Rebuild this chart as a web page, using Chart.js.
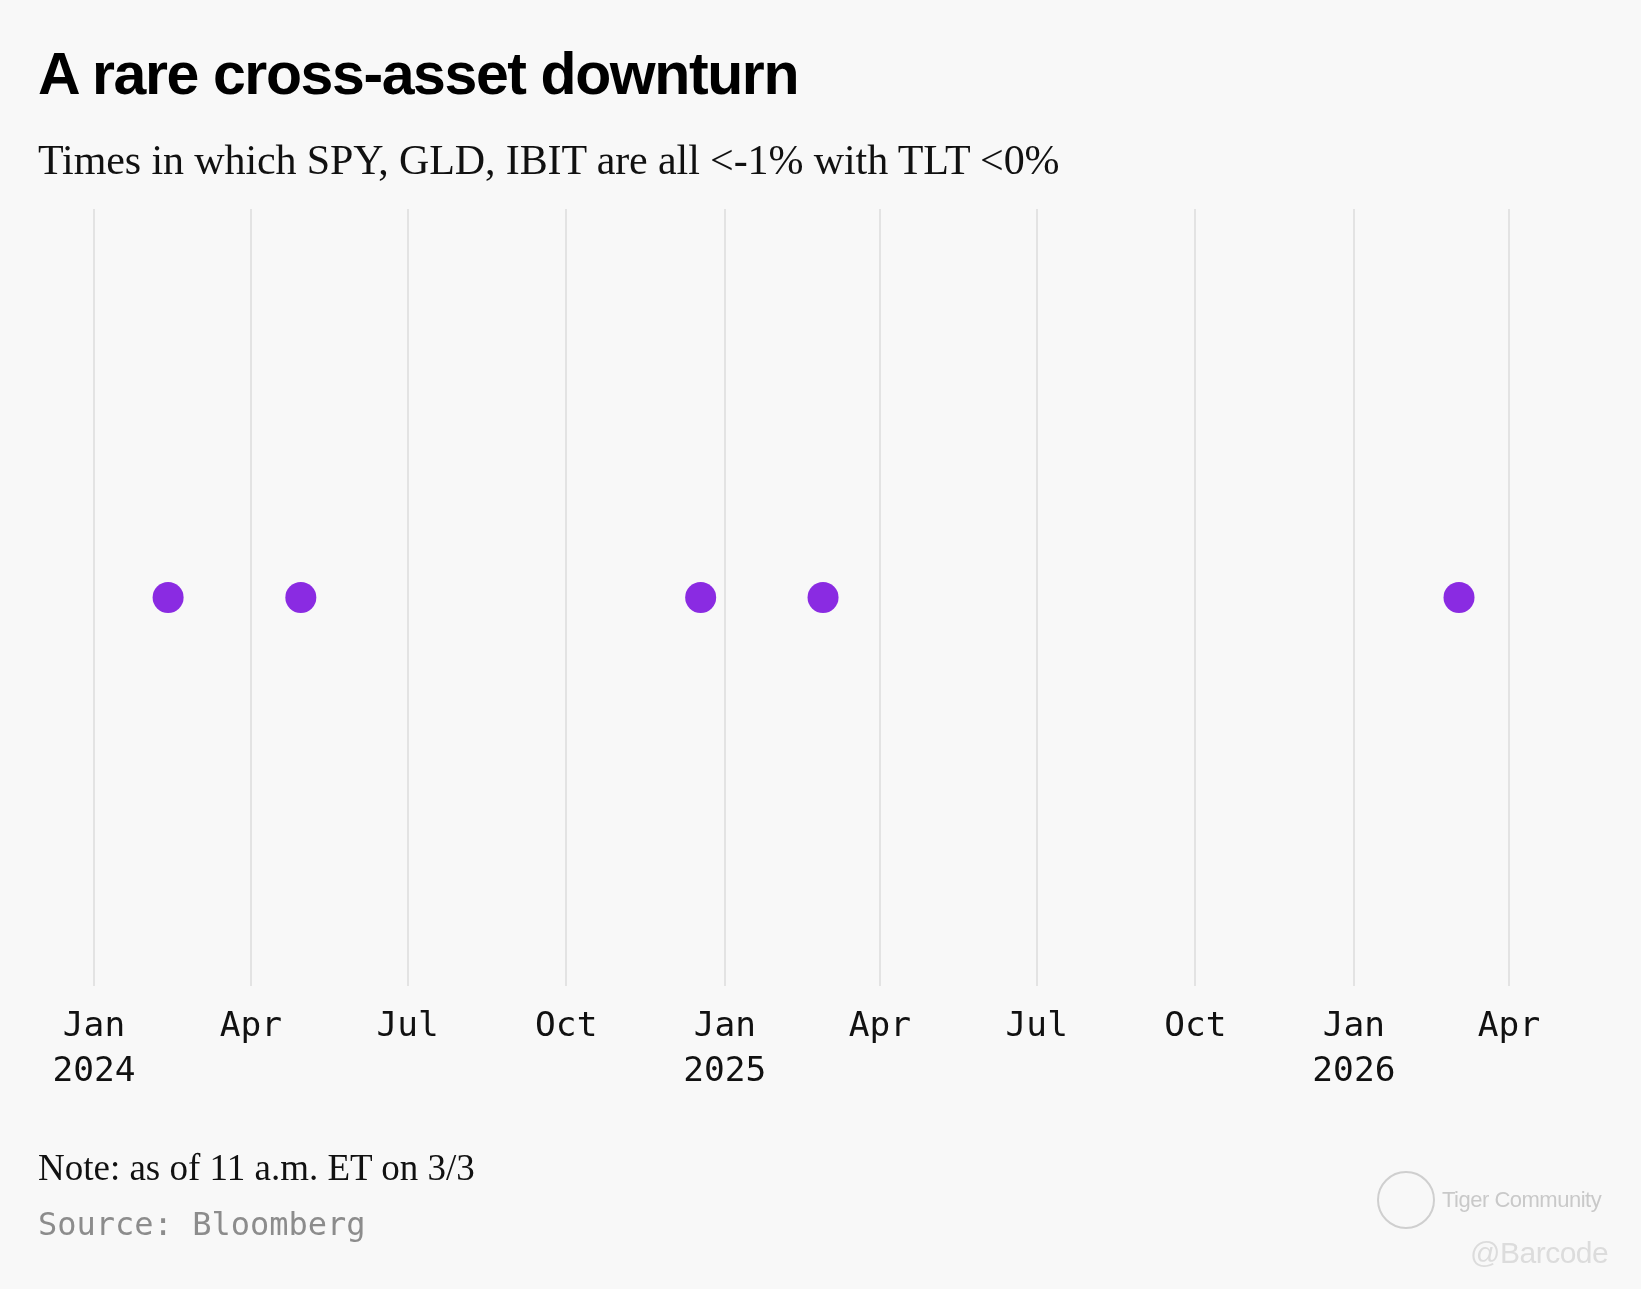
<!DOCTYPE html>
<html>
<head>
<meta charset="utf-8">
<script src="https://cdn.jsdelivr.net/npm/chart.js@4.4.1/dist/chart.umd.min.js"></script>
<style>
  html, body { margin: 0; padding: 0; background: #f8f8f8; }
  #page { position: relative; width: 1641px; height: 1289px; overflow: hidden; background: #f8f8f8; }
  #chart { position: absolute; left: 0; top: 0; }
  .txt { position: absolute; left: 38px; line-height: 1; white-space: nowrap; }
  #title { top: 40px; font: bold 59px "Liberation Sans", Arial, sans-serif; letter-spacing: -1.4px; color: #000; }
  #subtitle { top: 136px; font: 42px "Liberation Serif", "Times New Roman", serif; color: #111; letter-spacing: -0.1px; }
  #note { top: 1146px; font: 37px "Liberation Serif", "Times New Roman", serif; color: #111; }
  #source { top: 1205px; font: 32px "DejaVu Sans Mono", monospace; color: #8c8c8c; }
  #wm1 { left: 1442px; top: 1187px; font: 22px "Liberation Sans", sans-serif; color: #c9c9c9; letter-spacing: -0.5px; }
  #wm2 { left: 1470px; top: 1236px; font: 30px "Liberation Sans", sans-serif; color: #dcdcdc; letter-spacing: -0.5px; }
  #logo { position: absolute; left: 1377px; top: 1171px; width: 54px; height: 54px; border: 2px solid #cfcfcf; border-radius: 50%; }
</style>
</head>
<body>
<div id="page">
  <canvas id="chart" width="1641" height="1289"></canvas>
  <div class="txt" id="title">A rare cross-asset downturn</div>
  <div class="txt" id="subtitle">Times in which SPY, GLD, IBIT are all &lt;-1% with TLT &lt;0%</div>
  <div class="txt" id="note">Note: as of 11 a.m. ET on 3/3</div>
  <div class="txt" id="source">Source: Bloomberg</div>
  <div id="logo"></div>
  <div class="txt" id="wm1">Tiger Community</div>
  <div class="txt" id="wm2">@Barcode</div>
</div>
<script>
// days on which all four conditions held
const eventDates = ['2024-02-13', '2024-04-30', '2024-12-18', '2025-02-27', '2026-03-03'];
const eventLevel = [1, 1, 1, 1, 1];

// x axis ticks
const tickDates = ['2024-01-01', '2024-04-01', '2024-07-01', '2024-10-01', '2025-01-01',
                   '2025-04-01', '2025-07-01', '2025-10-01', '2026-01-01', '2026-04-01'];
const tickLabels = [['Jan', '2024'], 'Apr', 'Jul', 'Oct', ['Jan', '2025'],
                    'Apr', 'Jul', 'Oct', ['Jan', '2026'], 'Apr'];

const toDay = s => Date.parse(s + 'T00:00:00Z') / 86400000;

const points = eventDates.map((d, i) => ({ x: toDay(d), y: eventLevel[i] }));

new Chart(document.getElementById('chart'), {
    type: 'scatter',
    data: {
        datasets: [{
            data: points,
            backgroundColor: '#8a2be2',
            borderWidth: 0,
            pointRadius: 15.5,
            pointHoverRadius: 15.5
        }]
    },
    options: {
        responsive: false,
        animation: false,
        events: [],
        layout: { padding: { left: 94, right: 132, top: 209, bottom: 0 } },
        plugins: { legend: { display: false }, tooltip: { enabled: false } },
        scales: {
            x: {
                type: 'linear',
                min: toDay(tickDates[0]),
                max: toDay(tickDates[tickDates.length - 1]),
                afterBuildTicks: s => { s.ticks = tickDates.map(d => ({ value: toDay(d) })); },
                afterFit: s => { s.height = 1289 - 986; },
                grid: { color: '#e3e3e3', lineWidth: 2, drawTicks: false },
                border: { display: false },
                ticks: {
                    autoSkip: false,
                    maxRotation: 0,
                    padding: 19,
                    color: '#111',
                    font: { family: '"DejaVu Sans Mono", monospace', size: 34.5, lineHeight: 1.3 },
                    callback: (v, i) => tickLabels[i]
                }
            },
            y: {
                display: false,
                min: 0,
                max: 2
            }
        }
    }
});
</script>
</body>
</html>
